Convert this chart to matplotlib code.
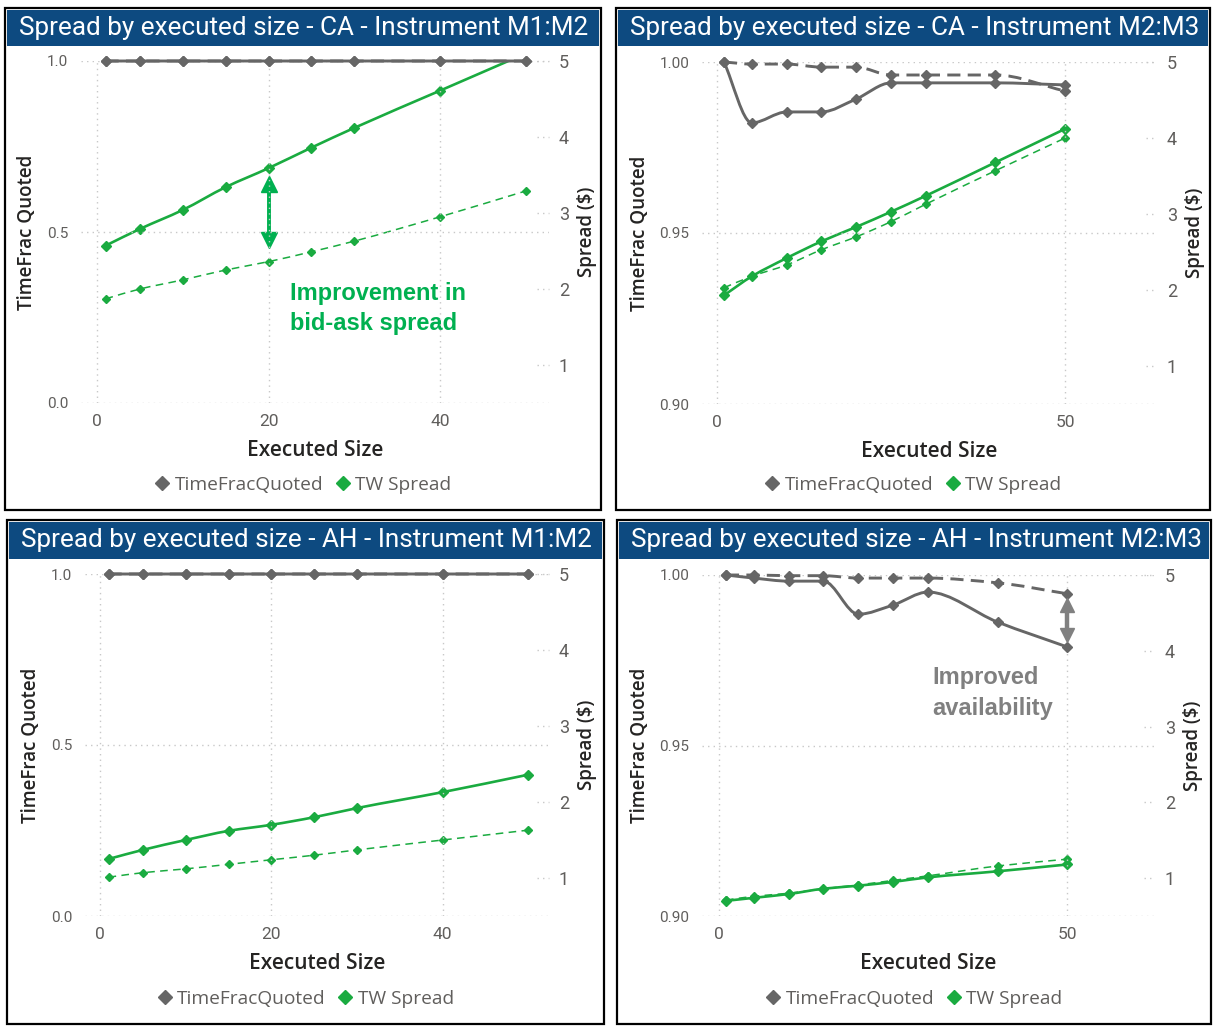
import matplotlib
matplotlib.use("Agg")
import matplotlib.pyplot as plt
from matplotlib.lines import Line2D
from matplotlib.patches import Rectangle, PathPatch
from matplotlib.path import Path
import matplotlib.transforms as mtransforms
import numpy as np


# Data

exec_size = [1, 5, 10, 15, 20, 25, 30, 40, 50]

ca_m1m2_frac_solid = [1.0, 1.0, 1.0, 1.0, 1.0, 1.0, 1.0, 1.0, 1.0]
ca_m1m2_frac_dash = [1.0, 1.0, 1.0, 1.0, 1.0, 1.0, 1.0, 1.0, 1.0]
ca_m1m2_spread_solid = [2.57, 2.79, 3.04, 3.34, 3.59, 3.86, 4.12, 4.61, 5.10]
ca_m1m2_spread_dash = [1.87, 2.00, 2.12, 2.25, 2.36, 2.49, 2.63, 2.95, 3.29]

ca_m2m3_frac_solid = [1.000, 0.9822, 0.9854, 0.9854, 0.9892, 0.9939, 0.9939, 0.9939, 0.9933]
ca_m2m3_frac_dash = [1.000, 0.9994, 0.9994, 0.9985, 0.9985, 0.9962, 0.9962, 0.9962, 0.9915]
ca_m2m3_spread_solid = [1.93, 2.18, 2.42, 2.64, 2.83, 3.03, 3.24, 3.68, 4.12]
ca_m2m3_spread_dash = [2.03, 2.18, 2.33, 2.53, 2.70, 2.90, 3.13, 3.57, 4.00]

ah_m1m2_frac_solid = [1.0, 1.0, 1.0, 1.0, 1.0, 1.0, 1.0, 1.0, 1.0]
ah_m1m2_frac_dash = [1.0, 1.0, 1.0, 1.0, 1.0, 1.0, 1.0, 1.0, 1.0]
ah_m1m2_spread_solid = [1.25, 1.37, 1.50, 1.62, 1.70, 1.80, 1.92, 2.13, 2.36]
ah_m1m2_spread_dash = [1.01, 1.07, 1.12, 1.18, 1.24, 1.30, 1.37, 1.50, 1.63]

ah_m2m3_frac_solid = [1.000, 0.9991, 0.9982, 0.9982, 0.9885, 0.9912, 0.9950, 0.9862, 0.9789]
ah_m2m3_frac_dash = [1.000, 1.000, 0.9998, 0.9998, 0.9991, 0.9991, 0.9991, 0.9977, 0.9945]
ah_m2m3_spread_solid = [0.70, 0.74, 0.79, 0.86, 0.90, 0.95, 1.01, 1.09, 1.18]
ah_m2m3_spread_dash = [0.71, 0.76, 0.80, 0.86, 0.91, 0.97, 1.03, 1.16, 1.25]

titles = [
    "Spread by executed size - CA - Instrument M1:M2",
    "Spread by executed size - CA - Instrument M2:M3",
    "Spread by executed size - AH - Instrument M1:M2",
    "Spread by executed size - AH - Instrument M2:M3",
]
legend_labels = ["TimeFracQuoted", "TW Spread"]


# Styling

W, H = 1218, 1028
GREY = "#666666"
GREEN = "#1AAB40"
NAVY = "#0D4A80"
TICK_C = "#605E5C"
LABEL_C = "#252423"
GRID_C = "#C8C8C8"

NARROW = ["Roboto", "DejaVu Sans"]
UI = ["Open Sans", "DejaVu Sans"]
ARIAL = ["Liberation Sans", "DejaVu Sans"]

fig = plt.figure(figsize=(W / 100, H / 100), dpi=100)


def px_rect(x0, y0, x1, y1):
    # pixel box (top-left origin) -> figure fraction rect
    return [x0 / W, 1 - y1 / H, (x1 - x0) / W, (y1 - y0) / H]


def smooth_path(x, y):
    # monotone cubic (Fritsch-Carlson) written as bezier segments
    x = np.asarray(x, float)
    y = np.asarray(y, float)
    h = np.diff(x)
    d = np.diff(y) / h
    m = np.zeros_like(y)
    m[0], m[-1] = d[0], d[-1]
    for i in range(1, len(x) - 1):
        if d[i - 1] * d[i] <= 0:
            m[i] = 0.0
        else:
            w1 = 2 * h[i] + h[i - 1]
            w2 = h[i] + 2 * h[i - 1]
            m[i] = (w1 + w2) / (w1 / d[i - 1] + w2 / d[i])
    verts = [(x[0], y[0])]
    codes = [Path.MOVETO]
    for i in range(len(h)):
        verts += [(x[i] + h[i] / 3, y[i] + m[i] * h[i] / 3),
                  (x[i + 1] - h[i] / 3, y[i + 1] - m[i + 1] * h[i] / 3),
                  (x[i + 1], y[i + 1])]
        codes += [Path.CURVE4] * 3
    return Path(verts, codes)


def draw_series(ax, x, y, color, lw, ls, ms, clip):
    patch = PathPatch(smooth_path(x, y), fill=False, edgecolor=color, lw=lw,
                      linestyle=ls, capstyle="butt", clip_on=clip, zorder=3)
    ax.add_patch(patch)
    ax.plot(x, y, linestyle="none", marker="D", color=color, markersize=ms,
            clip_on=clip, zorder=4)


def double_arrow(ax, x, top, bottom, color, lw, ms):
    # shaft plus two triangle heads; top/bottom are head centres
    ax.plot([x, x], [top, bottom], color=color, lw=lw, solid_capstyle="butt", zorder=5)
    ax.plot([x], [top], marker="^", color=color, markersize=ms, linestyle="none", zorder=5)
    ax.plot([x], [bottom], marker="v", color=color, markersize=ms, linestyle="none", zorder=5)


panels = [
    dict(border=(5, 8, 601, 510), bar=(7, 10, 599, 46), axes=(81, 61, 549, 403),
         xlim=(-1.86, 52.7), xticks=[0, 20, 40], ylim=(0, 1.0),
         yticks=[0.0, 0.5, 1.0], yfmt="{:.1f}",
         frac=(ca_m1m2_frac_solid, ca_m1m2_frac_dash),
         spread=(ca_m1m2_spread_solid, ca_m1m2_spread_dash)),
    dict(border=(616, 8, 1210, 510), bar=(618, 10, 1208, 46), axes=(702, 62, 1157, 404),
         xlim=(-2.16, 63.2), xticks=[0, 50], ylim=(0.9, 1.0),
         yticks=[0.90, 0.95, 1.00], yfmt="{:.2f}",
         frac=(ca_m2m3_frac_solid, ca_m2m3_frac_dash),
         spread=(ca_m2m3_spread_solid, ca_m2m3_spread_dash)),
    dict(border=(7, 520, 604, 1024), bar=(9, 522, 602, 559), axes=(85, 574, 549, 916),
         xlim=(-1.75, 52.4), xticks=[0, 20, 40], ylim=(0, 1.0),
         yticks=[0.0, 0.5, 1.0], yfmt="{:.1f}",
         frac=(ah_m1m2_frac_solid, ah_m1m2_frac_dash),
         spread=(ah_m1m2_spread_solid, ah_m1m2_spread_dash)),
    dict(border=(617, 520, 1211, 1024), bar=(619, 522, 1209, 559), axes=(702, 575, 1155, 916),
         xlim=(-2.44, 62.6), xticks=[0, 50], ylim=(0.9, 1.0),
         yticks=[0.90, 0.95, 1.00], yfmt="{:.2f}",
         frac=(ah_m2m3_frac_solid, ah_m2m3_frac_dash),
         spread=(ah_m2m3_spread_solid, ah_m2m3_spread_dash)),
]

axes_pairs = []
for k, p in enumerate(panels):
    bx0, by0, bx1, by1 = p["border"]
    fig.patches.append(Rectangle((bx0 / W, 1 - by1 / H), (bx1 - bx0) / W, (by1 - by0) / H,
                                 transform=fig.transFigure, fill=False,
                                 edgecolor="black", lw=1.6))
    tx0, ty0, tx1, ty1 = p["bar"]
    fig.patches.append(Rectangle((tx0 / W, 1 - ty1 / H), (tx1 - tx0) / W, (ty1 - ty0) / H,
                                 transform=fig.transFigure, facecolor=NAVY,
                                 edgecolor="none"))
    fig.text((tx0 + 12) / W, 1 - (ty0 + ty1) / 2 / H, titles[k], color="white",
             fontsize=18.8, family=NARROW, va="center", ha="left")

    ax = fig.add_axes(px_rect(*p["axes"]))
    ax2 = ax.twinx()
    ax.set_xlim(*p["xlim"])
    ax.set_ylim(*p["ylim"])
    ax2.set_ylim(0.5, 5)
    for a in (ax, ax2):
        for s in a.spines.values():
            s.set_visible(False)
        a.patch.set_visible(False)

    ax.set_xticks(p["xticks"])
    ax.set_xticklabels([str(t) for t in p["xticks"]], family=NARROW, fontsize=12.5, color=TICK_C)
    ax.set_yticks(p["yticks"])
    ax.set_yticklabels([p["yfmt"].format(t) for t in p["yticks"]], family=NARROW,
                       fontsize=11, color=TICK_C)
    ax2.set_yticks([1, 2, 3, 4, 5])
    ax2.set_yticklabels(["1", "2", "3", "4", "5"], family=NARROW, fontsize=13, color=TICK_C)
    ax.tick_params(axis="both", length=0)
    ax.tick_params(axis="y", pad=9)
    ax.tick_params(axis="x", pad=8)
    ax2.tick_params(axis="y", length=0, pad=7)

    ax.grid(True, color=GRID_C, linestyle=(0, (1, 3)), lw=1)
    ax.set_axisbelow(True)
    blend = mtransforms.blended_transform_factory(ax2.transAxes, ax2.transData)
    for t in [1, 2, 3, 4, 5]:
        ax2.plot([0.975, 1.0], [t, t], transform=blend, color=GRID_C,
                 linestyle=(0, (1, 3)), lw=1, clip_on=False)

    ax.set_xlabel("Executed Size", family=UI, fontweight="semibold", fontsize=15,
                  color=LABEL_C, labelpad=8)
    ax.set_ylabel("TimeFrac Quoted", family=UI, fontweight="semibold", fontsize=13.5,
                  color=LABEL_C, labelpad=7)
    ax2.set_ylabel("Spread ($)", family=UI, fontweight="semibold", fontsize=13.5,
                   color=LABEL_C, labelpad=6, rotation=90)

    fs, fd = p["frac"]
    ss, sd = p["spread"]
    draw_series(ax2, exec_size, sd, GREEN, 1.1, (0, (5, 3.5)), 4.2, True)
    draw_series(ax2, exec_size, ss, GREEN, 1.9, "-", 5.2, True)
    draw_series(ax, exec_size, fd, GREY, 2.1, (0, (4.5, 2.5)), 5.5, False)
    draw_series(ax, exec_size, fs, GREY, 2.1, "-", 5.5, False)
    ax.set_zorder(ax2.get_zorder() + 1)

    handles = [Line2D([], [], marker="D", linestyle="none", color=GREY, markersize=7),
               Line2D([], [], marker="D", linestyle="none", color=GREEN, markersize=7)]
    lx = (bx0 + bx1) / 2 / W
    ly = 1 - (by1 - 25) / H
    fig.legend(handles, legend_labels, loc="center", bbox_to_anchor=(lx, ly),
               ncol=2, frameon=False, handlelength=0.8, handletextpad=0.25,
               columnspacing=0.6, prop={"family": UI, "size": 13.8},
               labelcolor=TICK_C)
    axes_pairs.append((ax, ax2))


# Annotations

ax, ax2 = axes_pairs[0]
double_arrow(ax2, 20, 3.38, 2.645, "#00B050", 2.8, 11.5)
ax2.text(22.5, 1.74, "Improvement in\nbid-ask spread", color="#00B050",
         fontsize=17, fontweight="bold", family=ARIAL, va="center", ha="left",
         linespacing=1.4)

ax, ax2 = axes_pairs[3]
double_arrow(ax, 50, 0.99123, 0.98246, "#808080", 3.2, 10.5)
ax.text(30.6, 0.9654, "Improved\navailability", color="#808080",
        fontsize=17, fontweight="bold", family=ARIAL, va="center", ha="left",
        linespacing=1.4)

fig.savefig("out.png", dpi=100)
